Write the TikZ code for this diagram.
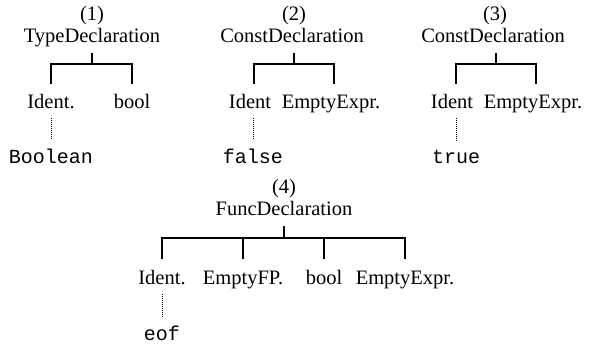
\documentclass[tikz,border=0pt]{standalone}
\usepackage{fontspec}
\setmainfont{Liberation Serif}
\setmonofont{Liberation Mono}
\begin{document}
\begin{tikzpicture}[x=1bp,y=-1bp,
  every node/.style={inner sep=0pt, anchor=base, font=\fontsize{20.5bp}{24bp}\selectfont},
  leaf/.style={font=\ttfamily\fontsize{20bp}{24bp}\selectfont},
  edge/.style={line width=1.5bp},
  dots/.style={line width=0.8bp, dash pattern=on 0.8bp off 1.2bp}]
\useasboundingbox (0,0) rectangle (589,345);

% ---------- tree 1 ----------
\node (n1) at (92,20) {(1)};
\node (h1) at (92,42) {TypeDeclaration};
\node (c11) at (51,108) {Ident.};
\node (c12) at (132,108) {bool};
\node[leaf] (f1) at (51,163) {Boolean};
\coordinate (b1) at (92,64);
\coordinate (v11) at (51,84);
\coordinate (v12) at (132,84);
\draw[edge] ([yshift=-11bp]h1.base) -- (b1);
\draw[edge] (v11) |- (b1) -| (v12);
\draw[dots] ([yshift=-10bp]f1.north |- c11.base) -- ([yshift=9bp]f1.north);

% ---------- tree 2 ----------
\node (n2) at (294,20) {(2)};
\node (h2) at (292,42) {ConstDeclaration};
\node (c21) at (250,108) {Ident};
\node (c22) at (331,108) {EmptyExpr.};
\node[leaf] (f2) at (253,163) {false};
\coordinate (b2) at (294,64);
\coordinate (v21) at (254,84);
\coordinate (v22) at (334,84);
\draw[edge] ([yshift=-11bp]h2.base -| b2) -- (b2);
\draw[edge] (v21) |- (b2) -| (v22);
\draw[dots] ([yshift=-10bp]f2.north |- c21.base) -- ([yshift=9bp]f2.north);

% ---------- tree 3 ----------
\node (n3) at (495,20) {(3)};
\node (h3) at (493,42) {ConstDeclaration};
\node (c31) at (452,108) {Ident};
\node (c32) at (533,108) {EmptyExpr.};
\node[leaf] (f3) at (456,163) {true};
\coordinate (b3) at (496,64);
\coordinate (v31) at (456,84);
\coordinate (v32) at (536,84);
\draw[edge] ([yshift=-11bp]h3.base -| b3) -- (b3);
\draw[edge] (v31) |- (b3) -| (v32);
\draw[dots] ([yshift=-10bp]f3.north |- c31.base) -- ([yshift=9bp]f3.north);

% ---------- tree 4 ----------
\node (n4) at (284,193) {(4)};
\node (h4) at (284,215) {FuncDeclaration};
\node (c41) at (162,284) {Ident.};
\node (c42) at (243,284) {EmptyFP.};
\node (c43) at (324,284) {bool};
\node (c44) at (405,284) {EmptyExpr.};
\node[leaf] (f4) at (162,340) {eof};
\coordinate (b4) at (284,238);
\coordinate (v41) at (162,259);
\coordinate (v42) at (243,259);
\coordinate (v43) at (324,259);
\coordinate (v44) at (405,259);
\draw[edge] ([yshift=-11bp]h4.base) -- (b4);
\draw[edge] (v41) |- (b4) -| (v44);
\draw[edge] (v42) -- (v42 |- b4);
\draw[edge] (v43) -- (v43 |- b4);
\draw[dots] ([yshift=-10bp]f4.north |- c41.base) -- ([yshift=9bp]f4.north);
\end{tikzpicture}
\end{document}
